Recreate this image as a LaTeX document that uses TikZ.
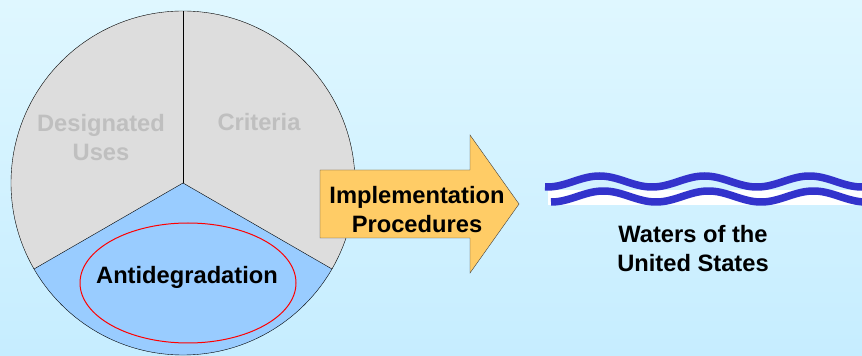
\documentclass[tikz,border=0pt]{standalone}
\usepackage{fontspec}
\setmainfont{Liberation Sans}
\definecolor{skytop}{HTML}{DFF7FF}
\definecolor{skybottom}{HTML}{C6EDFF}
\definecolor{slicegray}{HTML}{DDDDDD}
\definecolor{slicetext}{HTML}{BFBFBF}
\definecolor{sliceblue}{HTML}{99CCFF}
\definecolor{arrowfill}{HTML}{FFCC66}
\definecolor{arrowedge}{HTML}{404040}
\definecolor{wave}{HTML}{3333CC}
\begin{document}
\begin{tikzpicture}[
      x=1pt, y=1pt,
      slice/.style={fill=slicegray},
      pietext/.style={font=\fontsize{23.7}{29}\selectfont\bfseries, align=center, inner sep=0pt},
      wavy/.style={draw=wave, line width=7.5pt, samples=150}
    ]
    \useasboundingbox (0,0) rectangle (862,356);
    \shade[top color=skytop, bottom color=skybottom] (0,0) rectangle (862,356);
    \coordinate (hub) at (183,173);
    \fill[slice] (hub) -- ++(90:172) arc[start angle=90, end angle=210, radius=172] -- cycle;
    \fill[slice] (hub) -- ++(-30:172) arc[start angle=-30, end angle=90, radius=172] -- cycle;
    \fill[sliceblue] (hub) -- ++(210:172) arc[start angle=210, end angle=330, radius=172] -- cycle;
    \draw (hub) -- ++(90:172);
    \draw (hub) -- ++(210:172);
    \draw (hub) -- ++(330:172);
    \draw (hub) circle [radius=172];
    \draw[red, line width=1pt] (188,73) ellipse [x radius=108, y radius=60];
    \node[pietext, text=slicetext] (uses) at (101,218) {Designated\\Uses};
    \node[pietext, text=slicetext] (criteria) at (259,234) {Criteria};
    \node[pietext] (anti) at (187,79) {Antidegradation};
    \draw[arrowedge, fill=arrowfill] (320,118) -- (470,118) -- (470,83) -- (519,152)
      -- (470,221) -- (470,186) -- (320,186) -- cycle;
    \node[pietext] (impl) at (417,146) {Implementation\\Procedures};
    \fill[white] (548,151) rectangle (862,166);
    \draw[wavy] plot[domain=551:870] (\x, {159.5-5.5*cos(3.428571*(\x-551))});
    \draw[wavy] plot[domain=545:870] (\x, {174.5-5.5*cos(3.428571*(\x-547))});
    \node[pietext] (waters) at (693,107) {Waters of the\\United States};
\end{tikzpicture}
\end{document}
